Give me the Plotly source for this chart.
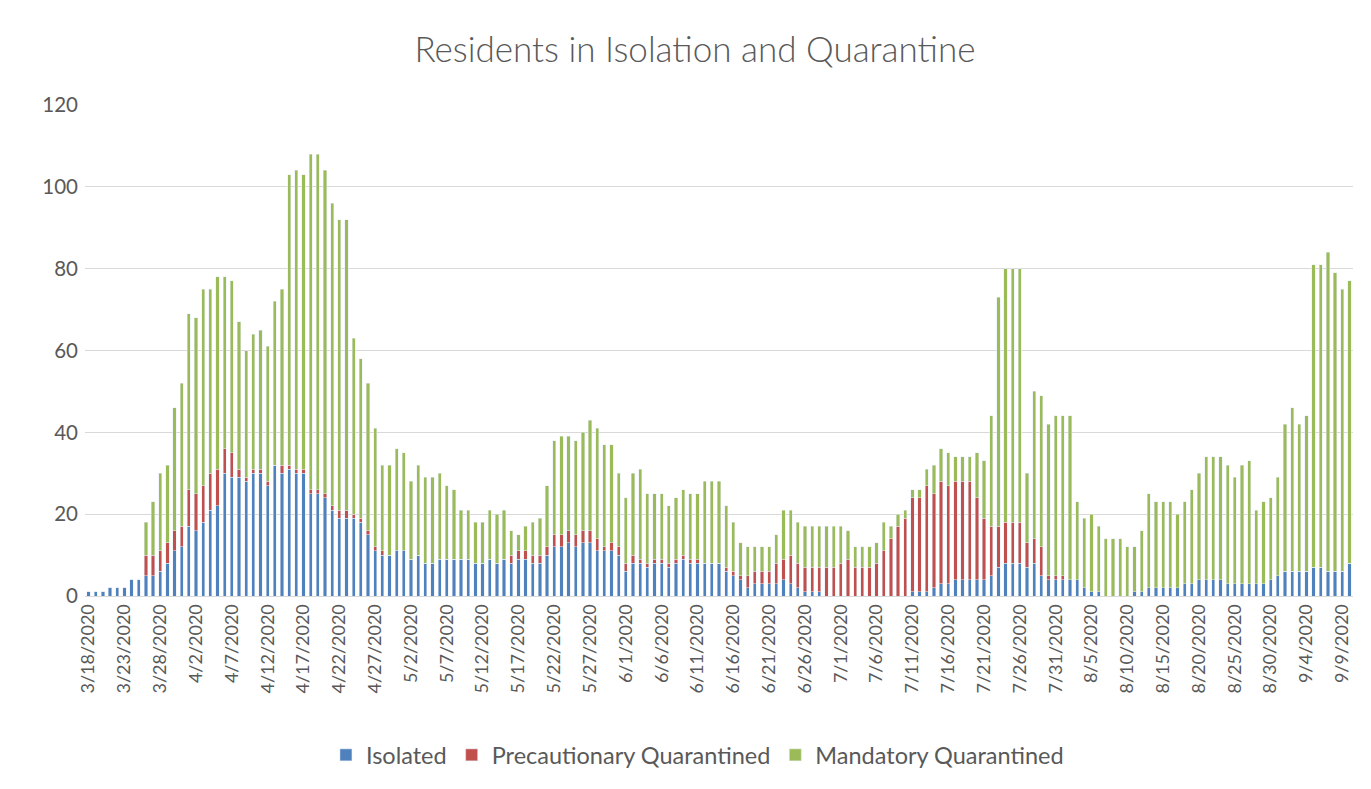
import pandas as pd
import plotly.graph_objects as go

dates = [f"{d.month}/{d.day}/{d.year}" for d in pd.date_range("2020-03-18", "2020-09-10")]

isolated = [1,1,1,2,2,2,4,4,5,5,6,8,11,12,17,16,18,21,22,30,29,29,28,30,30,27,32,30,31,30,
            30,25,25,24,21,19,19,19,18,15,11,10,10,11,11,9,10,8,8,9,9,9,9,9,8,8,9,8,9,8,
            9,9,8,8,10,12,12,13,12,13,13,11,11,11,10,6,8,8,7,8,8,7,8,9,8,8,8,8,8,6,
            5,4,2,3,3,3,3,4,3,2,1,1,1,0,0,0,0,0,0,0,0,0,0,0,0,1,1,1,2,3,
            3,4,4,4,4,4,5,7,8,8,8,7,8,5,4,4,4,4,4,2,1,1,0,0,0,0,1,1,2,2,
            2,2,2,3,3,4,4,4,4,3,3,3,3,3,3,4,5,6,6,6,6,7,7,6,6,6,8]
precautionary = [0,0,0,0,0,0,0,0,5,5,5,5,5,5,9,9,9,9,9,6,6,2,1,1,1,1,0,2,1,1,
                 1,1,1,1,1,2,2,1,1,1,1,1,0,0,0,0,0,0,0,0,0,0,0,0,0,0,0,0,0,2,
                 2,2,2,2,2,3,3,3,3,3,3,3,1,2,2,2,2,1,1,1,1,1,1,1,1,1,0,0,0,1,
                 1,1,3,3,3,3,5,5,7,6,6,6,6,7,7,8,9,7,7,7,8,11,14,17,19,23,23,26,23,25,
                 24,24,24,24,20,15,12,10,10,10,10,6,6,7,1,1,1,0,0,0,0,0,0,0,0,0,0,0,0,0,
                 0,0,0,0,0,0,0,0,0,0,0,0,0,0,0,0,0,0,0,0,0,0,0,0,0,0,0]
mandatory = [0,0,0,0,0,0,0,0,8,13,19,19,30,35,43,43,48,45,47,42,42,36,31,33,34,33,40,43,71,73,
             72,82,82,79,74,71,71,43,39,36,29,21,22,25,24,19,22,21,21,21,18,17,12,12,10,10,12,12,12,6,
             4,6,8,9,15,23,24,23,23,24,27,27,25,24,18,16,20,22,17,16,16,14,15,16,16,16,20,20,20,15,
             12,8,7,6,6,6,7,12,11,10,10,10,10,10,10,9,7,5,5,5,5,7,3,3,2,2,2,4,7,8,
             8,6,6,6,11,14,27,56,62,62,62,17,36,37,37,39,39,40,19,17,19,16,14,14,14,12,11,15,23,21,
             21,21,18,20,23,26,30,30,30,29,26,29,30,18,20,20,24,36,40,36,38,74,74,78,73,69,69]

tick_labels = dates[::5]

text_color = "#595959"
font_family = "Lato, Calibri, Carlito, sans-serif"

fig = go.Figure()
fig.add_trace(go.Bar(x=dates, y=isolated, name="Isolated", marker_color="#4F81BD"))
fig.add_trace(go.Bar(x=dates, y=precautionary, name="Precautionary Quarantined", marker_color="#C0504D"))
fig.add_trace(go.Bar(x=dates, y=mandatory, name="Mandatory Quarantined", marker_color="#9BBB59"))

fig.update_layout(
    barmode="stack",
    bargap=0.55,
    width=1363, height=781,
    margin=dict(l=77, r=18, t=97, b=193),
    paper_bgcolor="white", plot_bgcolor="white",
    font=dict(family=font_family, color=text_color),
    title=dict(text="Residents in Isolation and Quarantine", x=0.504, xanchor="center",
               y=0.946, yanchor="middle", yref="container",
               font=dict(size=35, color=text_color, family=font_family, weight=300)),
    legend=dict(orientation="h", x=0.483, xanchor="center", y=-0.324, yanchor="middle",
                font=dict(size=23.5, color=text_color), traceorder="normal"),
    showlegend=True,
)
fig.update_xaxes(type="category", tickmode="array", tickvals=tick_labels, ticktext=tick_labels,
                 tickangle=-90, tickfont=dict(size=18, color=text_color),
                 showgrid=False, showline=True, linecolor="#D9D9D9", linewidth=1, ticks="")
fig.update_yaxes(range=[0, 120], dtick=20, showgrid=True, gridcolor="#D9D9D9", gridwidth=1,
                 zeroline=False, showline=False, tickfont=dict(size=20.5, color=text_color),
                 ticks="", ticklabelstandoff=6)

fig.write_html("out.html")
